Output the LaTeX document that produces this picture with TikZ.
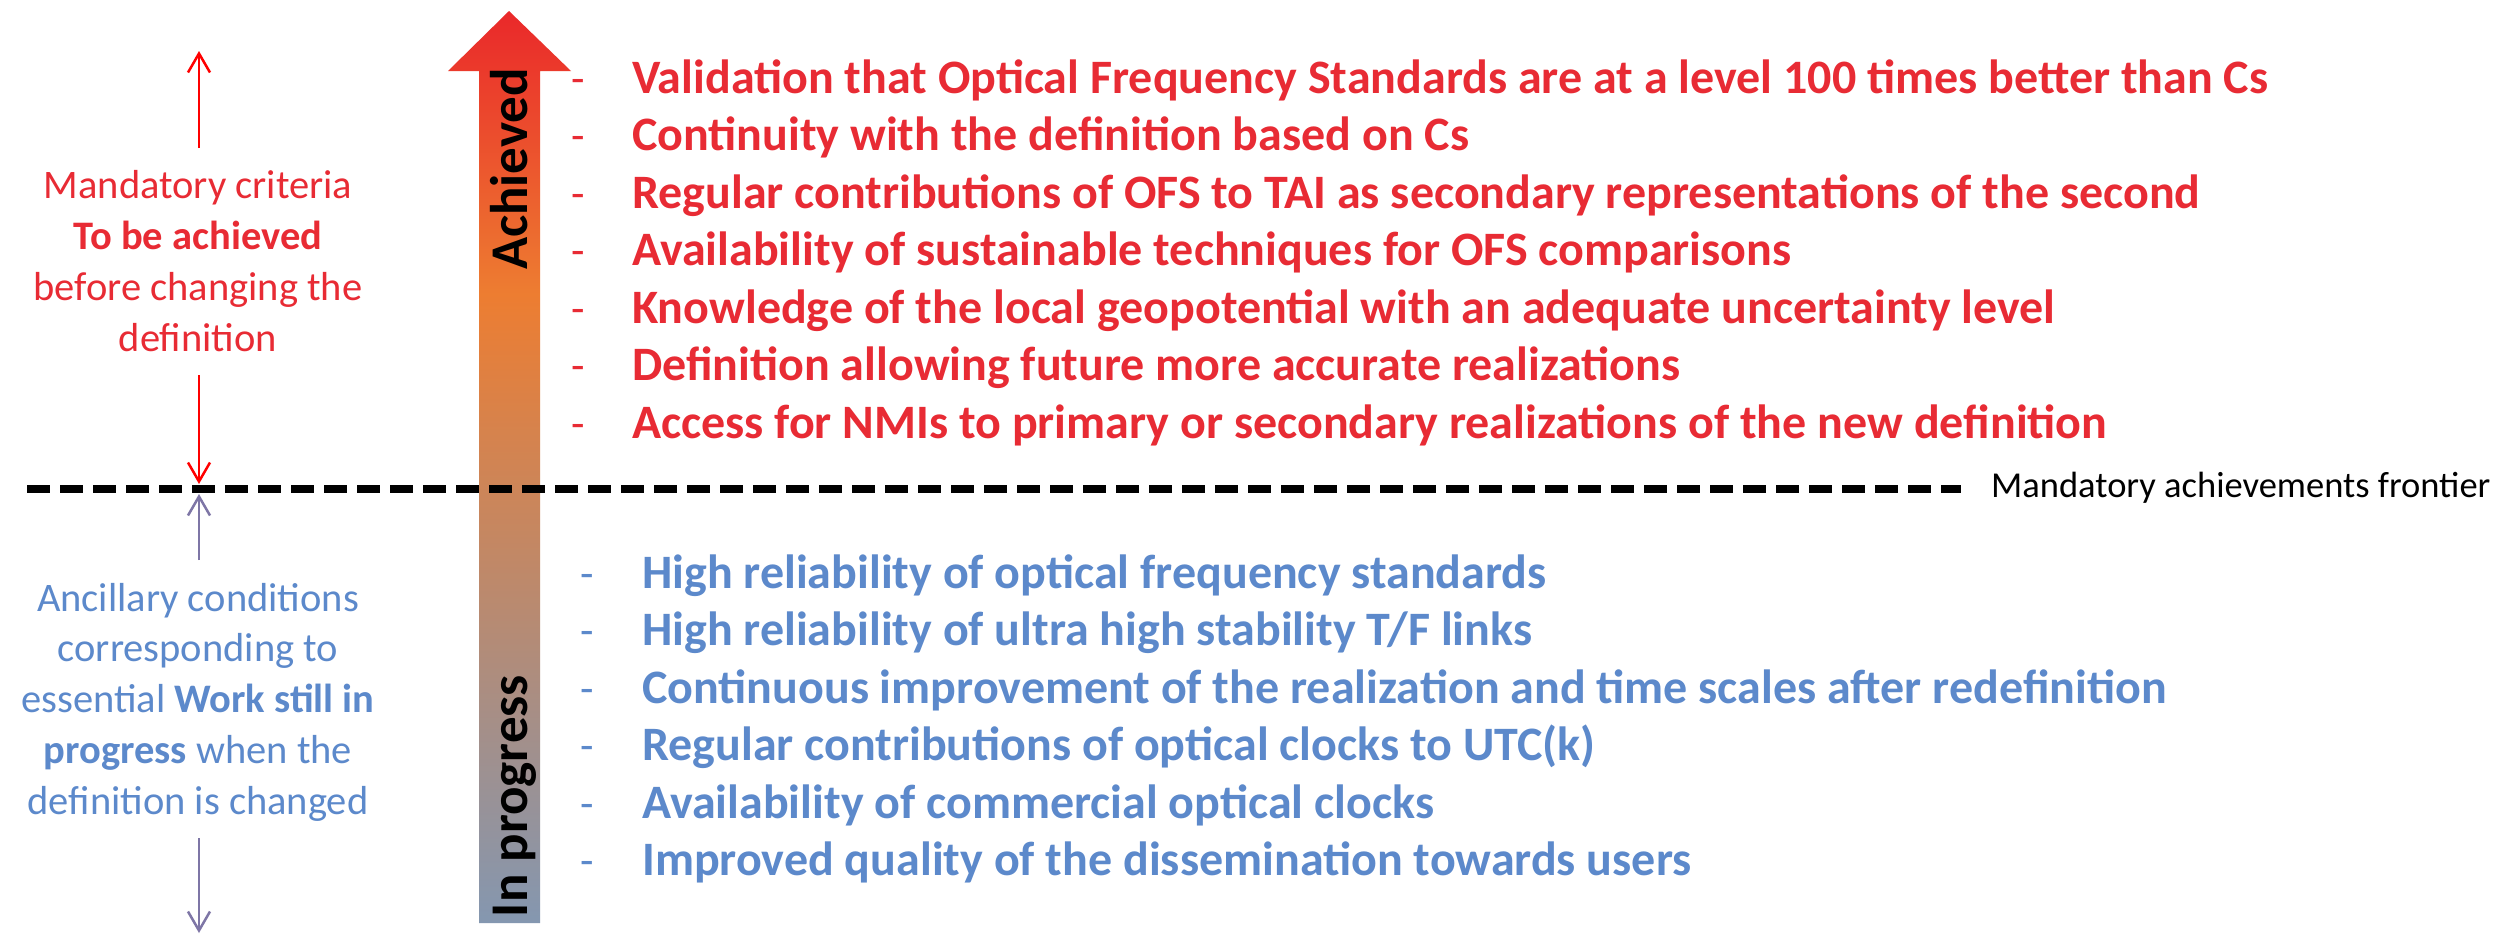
\documentclass[tikz,border=0pt]{standalone}
\usepackage{fontspec}
\setmainfont{Carlito}
\usetikzlibrary{arrows.meta}
\definecolor{txtred}{RGB}{232,43,52}
\definecolor{txtblue}{RGB}{92,137,203}
\definecolor{arrred}{RGB}{255,0,0}
\definecolor{arrblue}{RGB}{126,118,166}
\definecolor{gtop}{RGB}{234,40,42}
\definecolor{gmid}{RGB}{237,125,49}
\definecolor{gbot}{RGB}{132,151,176}
\pgfdeclareverticalshading{progressshade}{100bp}{color(0bp)=(gbot); color(25bp)=(gbot); color(59.5bp)=(gmid); color(75bp)=(gtop); color(100bp)=(gtop)}
\begin{document}
\begin{tikzpicture}[x=1pt,y=-1pt,
  listred/.style={anchor=base west, text=txtred, inner sep=0pt, font=\fontsize{48}{56}\selectfont\bfseries},
  listblue/.style={anchor=base west, text=txtblue, inner sep=0pt, font=\fontsize{48}{56}\selectfont\bfseries},
  dashred/.style={anchor=base west, text=txtred, inner sep=0pt, font=\fontsize{44}{52}\selectfont},
  dashblue/.style={anchor=base west, text=txtblue, inner sep=0pt, font=\fontsize{44}{52}\selectfont},
  sidelabel/.style={anchor=base, rotate=90, inner sep=0pt, text=black, font=\fontsize{53}{60}\selectfont\bfseries},
  sidetext/.style={anchor=base, align=center, inner sep=0pt, font=\fontsize{40.5}{50.7}\selectfont},
  redarr/.style={draw=arrred, line width=2.5pt, -{Straight Barb[length=19pt,width=22pt,line width=2.5pt]}},
  bluearr/.style={draw=arrblue, line width=2.5pt, -{Straight Barb[length=19pt,width=22pt,line width=2.5pt]}},
  frontier/.style={line width=8pt, dash pattern=on 23pt off 10pt}
]
\fill[white] (0,0) rectangle (2507,937);
\useasboundingbox (0,0) rectangle (2507,937);

% gradient arrow
\shade[shading=progressshade] (509,11) -- (571,71) -- (540,71) -- (540,923) -- (479,923) -- (479,71) -- (448,71) -- cycle;
\node[sidelabel] (ach) at (527,169) {Achieved};
\node[sidelabel] (inprog) at (527,796) {In progress};

% frontier
\coordinate (fl) at (27,489);
\coordinate (fr) at (1961,489);
\draw[frontier] (fl) -- (fr);
\node[anchor=base west, inner sep=0pt, font=\fontsize{36.5}{44}\selectfont] (flab) at (1991,497) {Mandatory achievements frontier};

% left texts (anchored at last baseline)
\node[sidetext, text=txtred] (mand) at (198,351) {Mandatory criteria\\\textbf{To be achieved}\\before changing the\\definition};
\node[sidetext, text=txtblue] (anc) at (198,814) {Ancillary conditions\\corresponding to\\essential \textbf{Work still in}\\\textbf{progress} when the\\definition is changed};

\coordinate (r1s) at (199,148);
\coordinate (r1e) at (199,51);
\coordinate (r2s) at (199,375);
\coordinate (r2e) at (199,484);
\coordinate (b1s) at (199,560);
\coordinate (b1e) at (199,494);
\coordinate (b2s) at (199,838);
\coordinate (b2e) at (199,933);
\draw[redarr] (r1s) -- (r1e);
\draw[redarr] (r2s) -- (r2e);
\draw[bluearr] (b1s) -- (b1e);
\draw[bluearr] (b2s) -- (b2e);

% red list
\foreach \y/\t [count=\i] in {93/{Validation that Optical Frequency Standards are at a level 100 times better than Cs},
  150.5/{Continuity with the definition based on Cs},
  208/{Regular contributions of OFS to TAI as secondary representations of the second},
  265.5/{Availability of sustainable techniques for OFS comparisons},
  323/{Knowledge of the local geopotential with an adequate uncertainty level},
  380.5/{Definition allowing future more accurate realizations},
  438/{Access for NMIs to primary or secondary realizations of the new definition}}{
  \node[dashred] (rd\i) at (571,\y) {-};
  \node[listred] (rl\i) at (632,\y) {\t};
}
% blue list
\foreach \y/\t [count=\i] in {588/{High reliability of optical frequency standards},
  645.5/{High reliability of ultra high stability T/F links},
  703/{Continuous improvement of the realization and time scales after redefinition},
  760.5/{Regular contributions of optical clocks to UTC(k)},
  818/{Availability of commercial optical clocks},
  875.5/{Improved quality of the dissemination towards users}}{
  \node[dashblue] (bd\i) at (580,\y) {-};
  \node[listblue] (bl\i) at (642,\y) {\t};
}
\end{tikzpicture}
\end{document}
